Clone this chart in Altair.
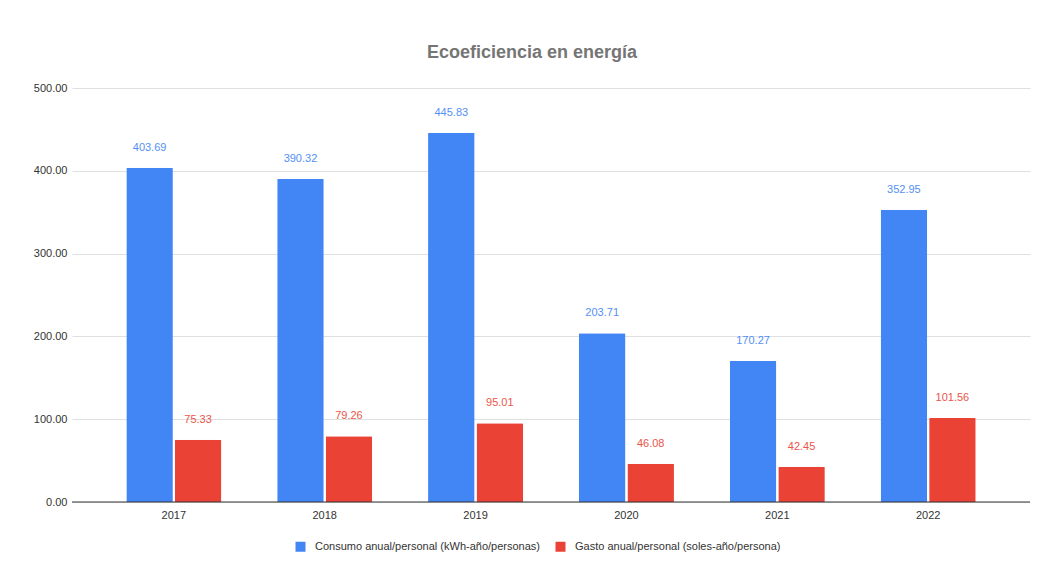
import altair as alt
import pandas as pd

years = ["2017", "2018", "2019", "2020", "2021", "2022"]
consumo = [403.69, 390.32, 445.83, 203.71, 170.27, 352.95]
gasto = [75.33, 79.26, 95.01, 46.08, 42.45, 101.56]
series = ["Consumo anual/personal (kWh-año/personas)", "Gasto anual/personal (soles-año/persona)"]
colors = ["#4285F4", "#EA4335"]
y_ticks = [0, 100, 200, 300, 400, 500]

rows = []
for i, y in enumerate(years):
    rows.append({"year": y, "serie": series[0], "value": consumo[i]})
    rows.append({"year": y, "serie": series[1], "value": gasto[i]})
df = pd.DataFrame(rows)

FONT = "Liberation Sans"

x_enc = alt.X("year:N", sort=years, title=None,
              scale=alt.Scale(paddingInner=0.37, paddingOuter=0.36),
              axis=alt.Axis(labelAngle=0, ticks=False, domain=False, labelPadding=7, grid=False,
                            labelFont=FONT, labelFontSize=11, labelColor="#333333"))
xo_enc = alt.XOffset("serie:N", sort=series, scale=alt.Scale(paddingInner=0.04))
color_enc = alt.Color("serie:N", sort=series,
                      scale=alt.Scale(domain=series, range=colors),
                      legend=alt.Legend(title=None, orient="none", direction="horizontal",
                                        legendX=223, legendY=453, symbolType="square",
                                        symbolSize=100, symbolStrokeWidth=0,
                                        labelFont=FONT, labelFontSize=11, labelColor="#333333",
                                        labelOffset=9, columnPadding=14, labelLimit=400))

base = alt.Chart(df)

bars = base.mark_bar(cornerRadiusTopLeft=1, cornerRadiusTopRight=1).encode(
    x=x_enc,
    xOffset=xo_enc,
    y=alt.Y("value:Q", title=None,
            scale=alt.Scale(domain=[0, 500], nice=False),
            axis=alt.Axis(values=y_ticks, format=".2f", ticks=False, domain=False,
                          labelFont=FONT, labelFontSize=11, labelColor="#333333",
                          labelPadding=5, gridColor="#e0e0e0")),
    color=color_enc,
)

labels = base.mark_text(font=FONT, fontSize=11, baseline="middle", dy=-20, opacity=0.9).encode(
    x=alt.X("year:N", sort=years),
    xOffset=alt.XOffset("serie:N", sort=series),
    y="value:Q",
    text=alt.Text("value:Q", format=".2f"),
    color=alt.Color("serie:N", sort=series, legend=None),
)

zero = alt.Chart(pd.DataFrame({"v": [0]})).mark_rule(color="#333333", strokeWidth=1).encode(
    y="v:Q"
)

chart = alt.layer(bars, labels, zero).properties(
    width=958,
    height=414,
    background="white",
    autosize=alt.AutoSizeParams(type="none"),
    padding={"left": 64, "top": 80, "right": 5, "bottom": 60},
    title=alt.TitleParams("Ecoeficiencia en energía", font=FONT, fontSize=18,
                          fontWeight="bold", color="#757575", anchor="middle",
                          offset=20, dx=-19),
).configure_view(strokeWidth=0)

chart.save("out.html", embed_options={"renderer": "svg", "actions": False})
